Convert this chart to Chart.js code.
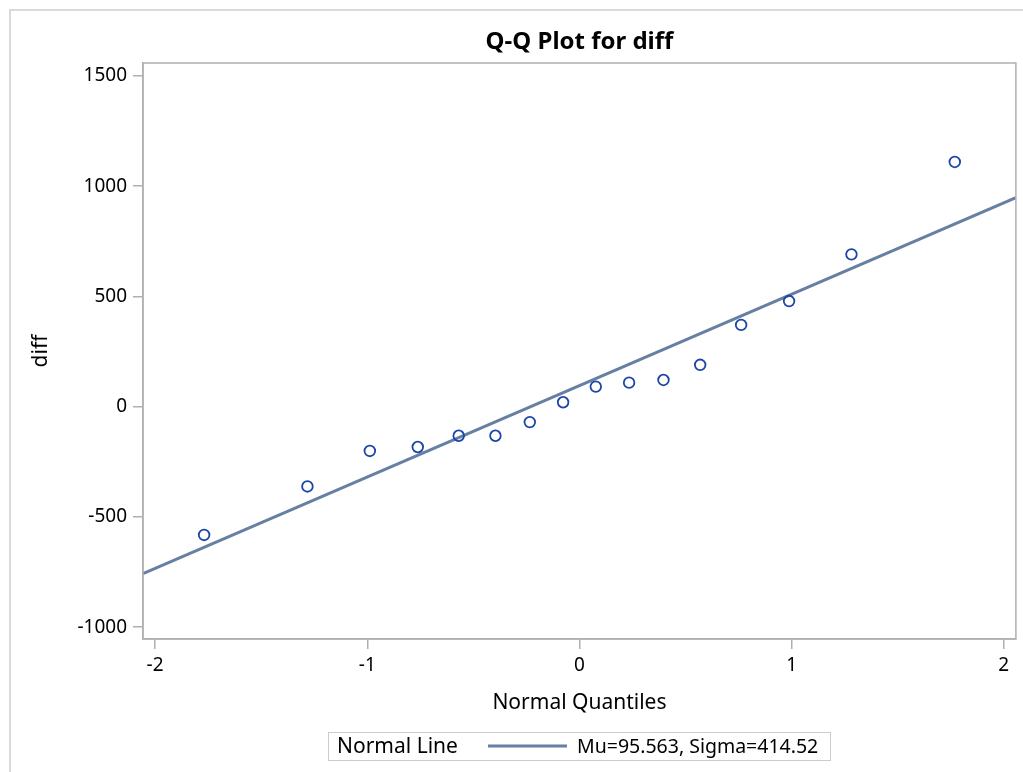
<!DOCTYPE html>
<html>
<head>
<meta charset="utf-8">
<script src="https://cdn.jsdelivr.net/npm/chart.js@4.4.1/dist/chart.umd.min.js"></script>
<style>
  html, body { margin: 0; padding: 0; background: #fff; }
  #wrap { position: relative; width: 1023px; height: 772px; }
</style>
</head>
<body>
<div id="wrap"><canvas id="qq"></canvas></div>
<script>
// normal quantiles (Blom) for the 16 observations
const quantiles = [-1.769, -1.282, -0.988, -0.762, -0.569, -0.396, -0.234, -0.077,
                    0.077,  0.234,  0.396,  0.569,  0.762,  0.988,  1.282,  1.769];
// sorted diff values
const diffs = [-582, -362, -201, -183, -132, -132, -70, 20,
                91, 109, 121, 190, 371, 479, 691, 1110];
const xTicks = [-2, -1, 0, 1, 2];
const yTicks = [-1000, -500, 0, 500, 1000, 1500];
const xMin = -2.057, xMax = 2.057;
const yMin = -1054, yMax = 1559;
const mu = 95.563;
const sigma = 414.52;

const fontFam = "'Noto Sans', 'Open Sans', sans-serif";
const axisGray = '#b0b0b0';
const lineColor = '#667fa2';
const markerColor = '#1b45a8';

const points = quantiles.map((q, i) => ({ x: q, y: diffs[i] }));
const normalLine = [xMin, xMax].map(x => ({ x: x, y: mu + sigma * x }));

// outer frame, plot box and the legend under the axis
const framePlugin = {
    id: 'framePlugin',
    beforeDraw(chart) {
        const ctx = chart.ctx;
        ctx.save();
        ctx.strokeStyle = '#d9d9d9';
        ctx.lineWidth = 2;
        ctx.strokeRect(10, 10, chart.width + 20, chart.height + 20);
        ctx.restore();
    },
    afterDraw(chart) {
        const ctx = chart.ctx;
        const a = chart.chartArea;
        ctx.save();
        ctx.strokeStyle = axisGray;
        ctx.lineWidth = 1.5;
        ctx.strokeRect(a.left, a.top, a.right - a.left, a.bottom - a.top);

        // legend
        ctx.strokeStyle = '#cccccc';
        ctx.lineWidth = 1;
        ctx.strokeRect(328.5, 732.5, 502, 28);
        ctx.fillStyle = '#000';
        ctx.textBaseline = 'alphabetic';
        ctx.textAlign = 'left';
        ctx.font = '21px ' + fontFam;
        ctx.fillText('Normal Line', 337, 753);
        ctx.strokeStyle = lineColor;
        ctx.lineWidth = 3;
        ctx.beginPath();
        ctx.moveTo(488, 746);
        ctx.lineTo(567, 746);
        ctx.stroke();
        ctx.font = '19.5px ' + fontFam;
        ctx.fillText('Mu=' + mu + ', Sigma=' + sigma, 577, 752.5);
        ctx.restore();
    }
};

new Chart(document.getElementById('qq'), {
    type: 'scatter',
    data: {
        datasets: [{
            label: 'diff',
            data: points,
            order: 0,
            pointStyle: 'circle',
            pointRadius: 5.3,
            pointHoverRadius: 5.3,
            borderWidth: 1.8,
            borderColor: markerColor,
            backgroundColor: 'rgba(255,255,255,0)'
        }, {
            label: 'Normal Line',
            type: 'line',
            data: normalLine,
            order: 1,
            showLine: true,
            pointRadius: 0,
            borderWidth: 3,
            borderColor: lineColor,
            fill: false
        }]
    },
    options: {
        responsive: true,
        maintainAspectRatio: false,
        animation: false,
        layout: { padding: { left: 0, right: 7, top: 0, bottom: 0 } },
        plugins: {
            legend: { display: false },
            tooltip: { enabled: false },
            title: {
                display: true,
                text: 'Q-Q Plot for diff',
                fullSize: false,
                color: '#000',
                font: { family: fontFam, size: 24, weight: 'bold' },
                padding: { top: 27.6, bottom: 6.6 }
            }
        },
        scales: {
            x: {
                type: 'linear',
                min: xMin,
                max: xMax,
                afterBuildTicks: scale => { scale.ticks = xTicks.map(v => ({ value: v })); },
                afterFit: scale => { scale.height = 133; },
                grid: { drawOnChartArea: false, drawTicks: true, tickLength: 10, color: axisGray, lineWidth: 1.5 },
                border: { display: true, color: axisGray, width: 1.5 },
                ticks: { color: '#000', padding: 5, font: { family: fontFam, size: 19 }, callback: v => String(v) },
                title: {
                    display: true,
                    text: 'Normal Quantiles',
                    color: '#000',
                    font: { family: fontFam, size: 21 },
                    padding: { top: 0, bottom: 56.4 }
                }
            },
            y: {
                type: 'linear',
                min: yMin,
                max: yMax,
                afterBuildTicks: scale => { scale.ticks = yTicks.map(v => ({ value: v })); },
                afterFit: scale => { scale.width = 143; },
                grid: { drawOnChartArea: false, drawTicks: true, tickLength: 10, color: axisGray, lineWidth: 1.5 },
                border: { display: true, color: axisGray, width: 1.5 },
                ticks: { color: '#000', padding: 6, font: { family: fontFam, size: 19 }, callback: v => String(v) },
                title: {
                    display: true,
                    text: 'diff',
                    color: '#000',
                    font: { family: fontFam, size: 21 },
                    padding: { top: 28.4, bottom: 0 }
                }
            }
        }
    },
    plugins: [framePlugin]
});
</script>
</body>
</html>
